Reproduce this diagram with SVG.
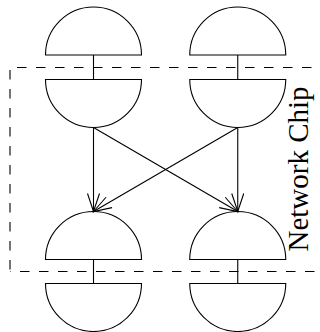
<svg xmlns="http://www.w3.org/2000/svg" width="320" height="332" viewBox="0 0 320 332">
<style>
.half{fill:#fff;stroke:#000;stroke-width:1.1}
.link{stroke:#000;stroke-width:1.1;fill:none}
.dash{stroke:#000;stroke-width:1.1;fill:none;stroke-dasharray:9.5 9.5}
.lbl{font-family:"Liberation Serif","Times New Roman",serif;font-size:29px;fill:#000}
</style>
<defs>
<marker id="ah" markerUnits="userSpaceOnUse" markerWidth="24" markerHeight="16" viewBox="-20 -8 24 16" refX="0" refY="0" orient="auto">
<path d="M-18,-6 L0,0 L-18,6" fill="none" stroke="#000" stroke-width="1.1"/>
</marker>
</defs>
<g id="chip">
<line class="dash" x1="10" y1="67.5" x2="320" y2="67.5" stroke-dashoffset="12"/>
<line class="dash" x1="10" y1="67.5" x2="10" y2="271.5" stroke-dashoffset="16.5"/>
<line class="dash" x1="10" y1="271.5" x2="320" y2="271.5" stroke-dashoffset="9"/>
<text class="lbl" text-anchor="middle" transform="translate(308,169) rotate(-90)">Network Chip</text>
</g>
<g id="node-top-left">
<path class="half" d="M45.5,55 A48,48 0 0 1 141.5,55 Z"/>
<path class="half" d="M45.5,79.5 A48,48 0 0 0 141.5,79.5 Z"/>
<line class="link" x1="93.5" y1="55" x2="93.5" y2="79.5"/>
</g>
<g id="node-top-right">
<path class="half" d="M189.75,55 A48,48 0 0 1 285.75,55 Z"/>
<path class="half" d="M189.75,79.5 A48,48 0 0 0 285.75,79.5 Z"/>
<line class="link" x1="237.75" y1="55" x2="237.75" y2="79.5"/>
</g>
<g id="node-bottom-left">
<path class="half" d="M45.5,259.5 A48,48 0 0 1 141.5,259.5 Z"/>
<path class="half" d="M45.5,283.5 A48,48 0 0 0 141.5,283.5 Z"/>
<line class="link" x1="93.5" y1="259.5" x2="93.5" y2="283.5"/>
</g>
<g id="node-bottom-right">
<path class="half" d="M189.75,259.5 A48,48 0 0 1 285.75,259.5 Z"/>
<path class="half" d="M189.75,283.5 A48,48 0 0 0 285.75,283.5 Z"/>
<line class="link" x1="237.75" y1="259.5" x2="237.75" y2="283.5"/>
</g>
<g id="connectors">
<line class="link" x1="93.5" y1="127.5" x2="93.5" y2="211.5" marker-end="url(#ah)"/>
<line class="link" x1="93.5" y1="127.5" x2="237.75" y2="211.5" marker-end="url(#ah)"/>
<line class="link" x1="237.75" y1="127.5" x2="93.5" y2="211.5" marker-end="url(#ah)"/>
<line class="link" x1="237.75" y1="127.5" x2="237.75" y2="211.5" marker-end="url(#ah)"/>
</g>
</svg>
